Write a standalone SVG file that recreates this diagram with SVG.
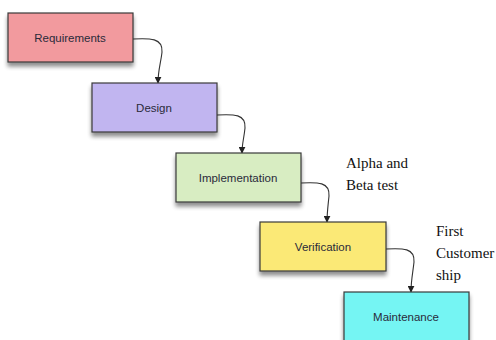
<svg xmlns="http://www.w3.org/2000/svg" width="496" height="340" viewBox="0 0 496 340">
<defs>
<filter id="sh" x="-10%" y="-10%" width="125%" height="140%">
<feGaussianBlur in="SourceAlpha" stdDeviation="2"/>
<feOffset dx="0" dy="4"/>
<feComponentTransfer><feFuncA type="linear" slope="0.45"/></feComponentTransfer>
<feMerge><feMergeNode/><feMergeNode in="SourceGraphic"/></feMerge>
</filter>
<marker id="ah" viewBox="0 0 10 10" refX="9" refY="5" markerWidth="7" markerHeight="7" orient="auto" markerUnits="userSpaceOnUse">
<path d="M0,0 L10,5 L0,10 Z" fill="#222"/>
</marker>
</defs>
<style>
.box{stroke:#3a3a3a;stroke-width:1.2;filter:url(#sh)}
.lbl{font-family:"Liberation Sans",Arial,sans-serif;font-size:11.5px;fill:#2a2a3a;text-anchor:middle}
.note{font-family:"Liberation Serif","Times New Roman",serif;font-size:15px;fill:#111}
.con{fill:none;stroke:#333;stroke-width:1.1;marker-end:url(#ah)}
</style>
<rect width="496" height="340" fill="#ffffff"/>
<g id="connectors">
<path class="con" d="M133,39 C150,38 163,38 162,52 C161,62 158,70 158,83"/>
<path class="con" d="M217,115 C234,114 246,114 245,128 C244,138 242,144 242,153"/>
<path class="con" d="M301,183 C318,182 330,182 329,196 C328,206 327,213 327,222"/>
<path class="con" d="M386,249 C403,248 415,248 414,262 C413,272 411,280 411,292"/>
</g>
<g id="requirements">
<rect class="box" x="8" y="13" width="125" height="49" fill="#f29a9e"/>
<text class="lbl" x="70" y="42">Requirements</text>
</g>
<g id="design">
<rect class="box" x="92" y="83" width="125" height="49" fill="#c1b5f0"/>
<text class="lbl" x="154" y="112">Design</text>
</g>
<g id="implementation">
<rect class="box" x="176" y="153" width="125" height="49" fill="#d8edc2"/>
<text class="lbl" x="238" y="182">Implementation</text>
</g>
<g id="verification">
<rect class="box" x="260" y="222" width="126" height="49" fill="#fbe976"/>
<text class="lbl" x="323" y="251">Verification</text>
</g>
<g id="maintenance">
<rect class="box" x="344" y="292" width="125" height="56" fill="#74f5f3"/>
<text class="lbl" x="406" y="321">Maintenance</text>
</g>
<g id="notes">
<text class="note" x="346" y="168">Alpha and</text>
<text class="note" x="346" y="190">Beta test</text>
<text class="note" x="436" y="236">First</text>
<text class="note" x="436" y="258">Customer</text>
<text class="note" x="436" y="280">ship</text>
</g>
</svg>
